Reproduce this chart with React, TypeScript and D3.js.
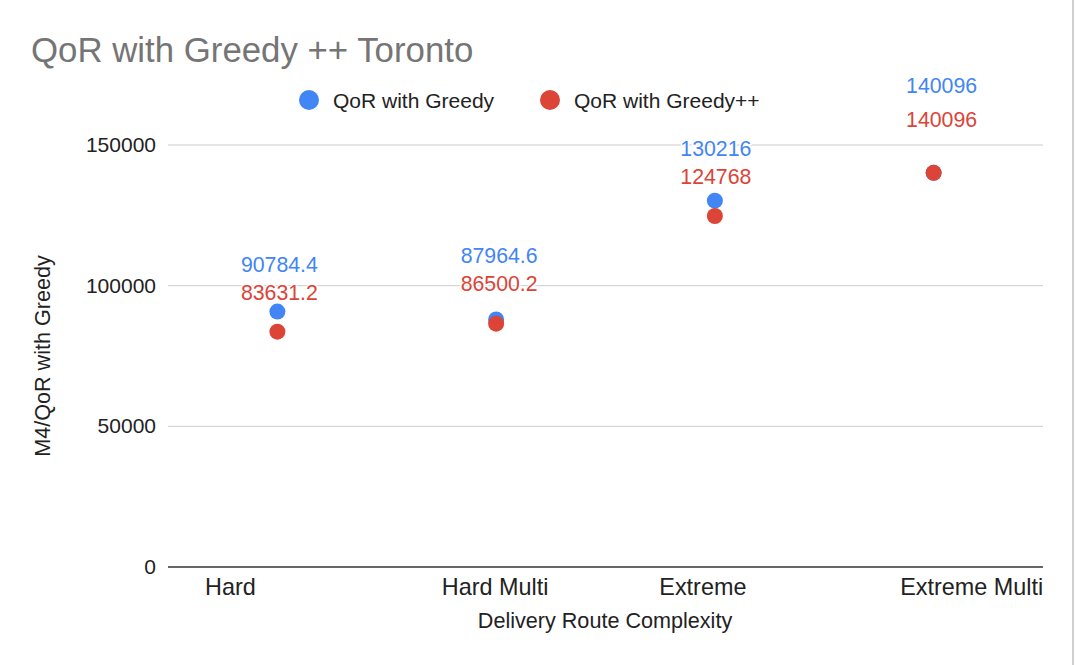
import React, { useEffect, useRef } from 'react';
import * as d3 from 'd3';

// chart data
const categories = ['Hard', 'Hard Multi', 'Extreme', 'Extreme Multi'];
const greedy = [90784.4, 87964.6, 130216, 140096];
const greedyPlusPlus = [83631.2, 86500.2, 124768, 140096];
const yTicks = [0, 50000, 100000, 150000];

const seriesNames = ['QoR with Greedy', 'QoR with Greedy++'];
const seriesColors = ['#4285f4', '#db4437'];

// label layout (pixels), mimics the sheet's collision avoidance
const blueLabelLift = [-47, -64, -52, -87];
const redLabelLift = [-39, -40, -39, -53];
const labelShiftX = [2, 3, 1, 8];
const tickShiftX = [-47, -1, -12, 38];

const FONT = 'Arial, "Liberation Sans", sans-serif';

const App: React.FC = () => {
  const svgRef = useRef<SVGSVGElement>(null);

  useEffect(() => {
    if (!svgRef.current) return;
    const width = 1077;
    const height = 665;

    const svg = d3.select(svgRef.current);
    svg.selectAll('*').remove();
    svg.attr('width', width).attr('height', height);

    svg.append('rect')
      .attr('width', width)
      .attr('height', height)
      .attr('fill', '#fff');

    // right edge of the screenshot frame
    svg.append('line')
      .attr('x1', 1073).attr('x2', 1073)
      .attr('y1', 0).attr('y2', height)
      .attr('stroke', '#d3cfcf')
      .attr('stroke-width', 2);

    const left = 168;
    const right = 1043;

    const xScale = d3.scaleBand<string>()
      .domain(categories)
      .range([left, right]);

    const yScale = d3.scaleLinear()
      .domain([0, 150000])
      .range([567, 145]);

    const cx = (c: string) => (xScale(c) || 0) + xScale.bandwidth() / 2;

    // title
    svg.append('text')
      .attr('x', 31)
      .attr('y', 62)
      .attr('font-family', FONT)
      .attr('font-size', 34.8)
      .attr('fill', '#757575')
      .text('QoR with Greedy ++ Toronto');

    // legend
    const legendX = [309, 550];
    seriesNames.forEach((name, i) => {
      svg.append('circle')
        .attr('cx', legendX[i])
        .attr('cy', 100)
        .attr('r', 10)
        .attr('fill', seriesColors[i]);
      svg.append('text')
        .attr('x', legendX[i] + 24)
        .attr('y', 108)
        .attr('font-family', FONT)
        .attr('font-size', 21)
        .attr('fill', '#222')
        .text(name);
    });

    // gridlines + y tick labels
    yTicks.forEach(t => {
      if (t > 0) {
        svg.append('line')
          .attr('x1', left).attr('x2', right)
          .attr('y1', yScale(t)).attr('y2', yScale(t))
          .attr('stroke', '#cccccc')
          .attr('stroke-width', 1);
      }
      svg.append('text')
        .attr('x', 156)
        .attr('y', yScale(t) + 7)
        .attr('text-anchor', 'end')
        .attr('font-family', FONT)
        .attr('font-size', 21)
        .attr('fill', '#222')
        .text(String(t));
    });

    // baseline
    svg.append('line')
      .attr('x1', left).attr('x2', right)
      .attr('y1', yScale(0)).attr('y2', yScale(0))
      .attr('stroke', '#333')
      .attr('stroke-width', 1.5);

    // x tick labels
    categories.forEach((c, i) => {
      svg.append('text')
        .attr('x', cx(c) + tickShiftX[i])
        .attr('y', 595)
        .attr('text-anchor', 'middle')
        .attr('font-family', FONT)
        .attr('font-size', 23.4)
        .attr('fill', '#222')
        .text(c);
    });

    // axis titles
    svg.append('text')
      .attr('x', 605)
      .attr('y', 628)
      .attr('text-anchor', 'middle')
      .attr('font-family', FONT)
      .attr('font-size', 21.6)
      .attr('fill', '#222')
      .text('Delivery Route Complexity');

    svg.append('text')
      .attr('transform', `translate(50,${(yScale(0) + yScale(150000)) / 2}) rotate(-90)`)
      .attr('text-anchor', 'middle')
      .attr('font-family', FONT)
      .attr('font-size', 21.6)
      .attr('fill', '#222')
      .text('M4/QoR with Greedy');

    // points
    const series = [greedy, greedyPlusPlus];
    series.forEach((values, s) => {
      svg.append('g')
        .selectAll('circle')
        .data(values)
        .join('circle')
        .attr('cx', (_, i) => cx(categories[i]))
        .attr('cy', d => yScale(d))
        .attr('r', 8)
        .attr('fill', seriesColors[s]);
    });

    // data labels
    const lifts = [blueLabelLift, redLabelLift];
    series.forEach((values, s) => {
      svg.append('g')
        .selectAll('text')
        .data(values)
        .join('text')
        .attr('x', (_, i) => cx(categories[i]) + labelShiftX[i])
        .attr('y', (d, i) => yScale(d) + lifts[s][i] + 7)
        .attr('text-anchor', 'middle')
        .attr('font-family', FONT)
        .attr('font-size', 21.3)
        .attr('fill', seriesColors[s])
        .attr('stroke', '#fff')
        .attr('stroke-width', 3)
        .attr('paint-order', 'stroke')
        .text(d => String(d));
    });
  }, []);

  return (
    <div style={{ position: 'absolute', left: 0, top: 0 }}>
      <svg ref={svgRef} style={{ display: 'block' }}></svg>
    </div>
  );
};

export default App;
